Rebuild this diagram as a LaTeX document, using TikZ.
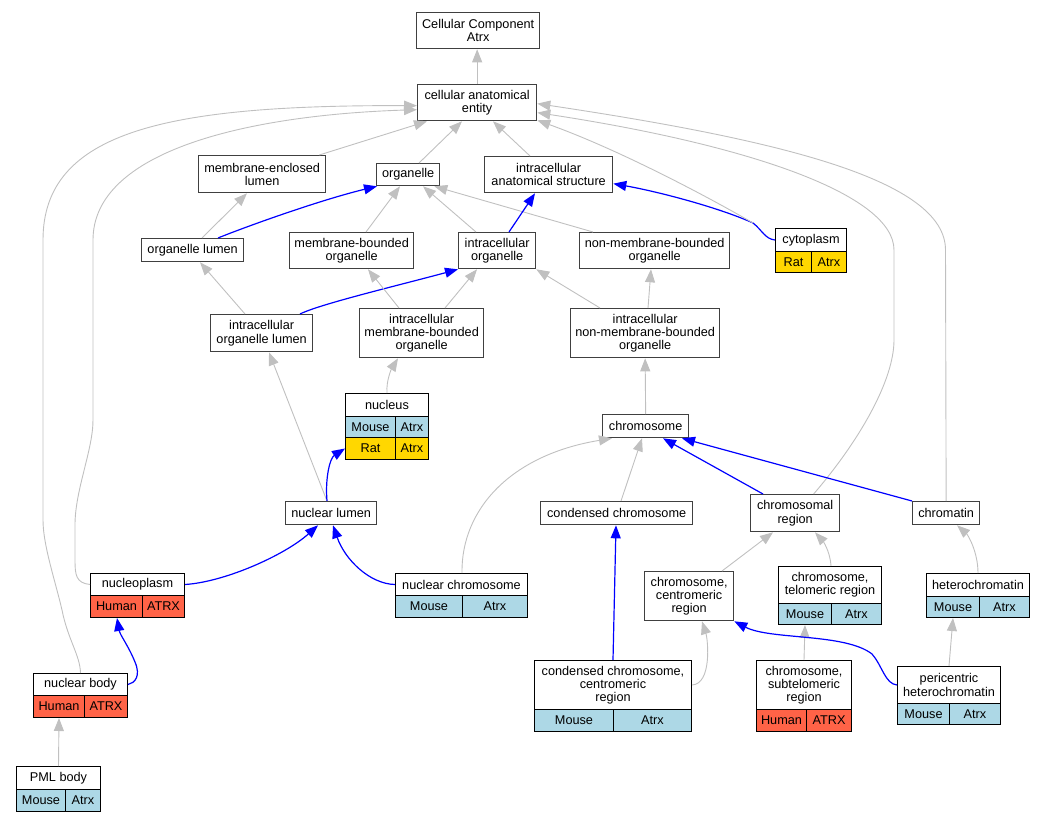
\documentclass[tikz,border=0pt]{standalone}
\usepackage{fontspec}
\setmainfont{Liberation Sans}
\usetikzlibrary{arrows.meta}
\definecolor{lblue}{HTML}{ADD8E6}
\definecolor{lgold}{HTML}{FFD700}
\definecolor{ltomato}{HTML}{FF6347}
\definecolor{egray}{HTML}{C0C0C0}
\definecolor{bgray}{HTML}{404040}
\definecolor{eblue}{HTML}{0000FF}
\newcommand\fs{\fontsize{12.7}{13.2}\selectfont}
\newcommand\bx[7][]{\node[nbox,#1,anchor=north west,minimum width={(#5-#3)*1pt},minimum height={(#6-#4)*1pt}] (#2) at (#3,#4) {#7};}
\begin{document}
\begin{tikzpicture}[x=1pt,y=-1pt,
 nbox/.style={draw=bgray,line width=1.3pt,fill=white,inner sep=0pt,align=center,font=\fs},
 tbox/.style={draw=black,line width=1pt},
 gedge/.style={draw=egray,line width=0.9pt,-{Triangle[length=13pt,width=10pt]}},
 bedge/.style={draw=eblue,line width=1.2pt,-{Triangle[length=13pt,width=10pt]}},
 mouse/.style={tbox,fill=lblue}, rat/.style={tbox,fill=lgold}, human/.style={tbox,fill=ltomato}]
\useasboundingbox (0,0) rectangle (1044,821);
% nodes
\bx{cc}{416}{12}{539}{48}{Cellular Component\\Atrx}
\bx{cae}{417}{84}{536}{120}{cellular anatomical\\entity}
\bx{mel}{198}{155}{325}{192}{membrane-enclosed\\lumen}
\bx{org}{376}{163}{439}{185}{organelle}
\bx{ias}{484}{156}{612}{192}{intracellular\\anatomical structure}
\bx{ol}{141}{238}{243}{261}{organelle lumen}
\bx{mbo}{289}{232}{413}{268}{membrane-bounded\\organelle}
\bx{io}{458}{232}{535}{268}{intracellular\\organelle}
\bx{nmbo}{579}{232}{729}{268}{non-membrane-bounded\\organelle}
\bx[tbox]{cyto}{775}{228}{846}{251}{cytoplasm}
\bx[rat]{cyto-l}{775}{251}{811}{272}{Rat}
\bx[rat]{cyto-r}{811}{251}{846}{272}{Atrx}
\bx{iol}{210}{314}{312}{351}{intracellular\\organelle lumen}
\bx{imbo}{359}{308}{483}{357}{intracellular\\membrane-bounded\\organelle}
\bx{inmbo}{570}{308}{719}{357}{intracellular\\non-membrane-bounded\\organelle}
\bx[tbox]{nuc}{345}{393}{428}{416}{nucleus}
\bx[mouse]{nuc-ml}{345}{416}{395}{437}{Mouse}
\bx[mouse]{nuc-mr}{395}{416}{428}{437}{Atrx}
\bx[rat]{nuc-rl}{345}{437}{395}{459}{Rat}
\bx[rat]{nuc-rr}{395}{437}{428}{459}{Atrx}
\bx{chr}{602}{414}{688}{437}{chromosome}
\bx{nl}{285}{501}{376}{524}{nuclear lumen}
\bx{cch}{540}{501}{692}{524}{condensed chromosome}
\bx{chreg}{750}{494}{839}{531}{chromosomal\\region}
\bx{chrt}{912}{501}{979}{524}{chromatin}
\bx[tbox]{npl}{90}{573}{184}{595}{nucleoplasm}
\bx[human]{npl-l}{90}{595}{142}{617}{Human}
\bx[human]{npl-r}{142}{595}{184}{617}{ATRX}
\bx[tbox]{nch}{395}{573}{527}{595}{nuclear chromosome}
\bx[mouse]{nch-l}{395}{595}{462}{617}{Mouse}
\bx[mouse]{nch-r}{462}{595}{527}{617}{Atrx}
\bx{ccr}{644}{571}{733}{620}{chromosome,\\centromeric\\region}
\bx[tbox]{ctr}{778}{566}{881}{603}{chromosome,\\telomeric region}
\bx[mouse]{ctr-l}{778}{603}{831}{624}{Mouse}
\bx[mouse]{ctr-r}{831}{603}{881}{624}{Atrx}
\bx[tbox]{het}{926}{573}{1029}{596}{heterochromatin}
\bx[mouse]{het-l}{926}{596}{979}{617}{Mouse}
\bx[mouse]{het-r}{979}{596}{1029}{617}{Atrx}
\bx[tbox]{nb}{33}{673}{127}{695}{nuclear body}
\bx[human]{nb-l}{33}{695}{84}{717}{Human}
\bx[human]{nb-r}{84}{695}{127}{717}{ATRX}
\bx[tbox]{cccr}{534}{660}{691}{709}{condensed chromosome,\\centromeric\\region}
\bx[mouse]{cccr-l}{534}{709}{613}{731}{Mouse}
\bx[mouse]{cccr-r}{613}{709}{691}{731}{Atrx}
\bx[tbox]{cstr}{756}{660}{851}{709}{chromosome,\\subtelomeric\\region}
\bx[human]{cstr-l}{756}{709}{806}{731}{Human}
\bx[human]{cstr-r}{806}{709}{851}{731}{ATRX}
\bx[tbox]{pch}{897}{666}{1000}{703}{pericentric\\heterochromatin}
\bx[mouse]{pch-l}{897}{703}{949}{724}{Mouse}
\bx[mouse]{pch-r}{949}{703}{1000}{724}{Atrx}
\bx[tbox]{pml}{16}{766}{100}{789}{PML body}
\bx[mouse]{pml-l}{16}{789}{65}{811}{Mouse}
\bx[mouse]{pml-r}{65}{789}{100}{811}{Atrx}
% edges
\draw[gedge] (cae.north) -- (cae.north |- cc.south);
\draw[gedge] ([xshift=-7pt]mel.north east) -- ([xshift=10pt]cae.south west);
\draw[gedge] ([xshift=43pt]org.north west) -- ([xshift=45pt]cae.south west);
\draw[gedge] ([xshift=46pt]ias.north west) -- ([xshift=76pt]cae.south west);
\draw[gedge] ([xshift=61pt]ol.north west) -- ([xshift=49pt]mel.south west);
\draw[bedge] ([xshift=77pt]ol.north west) .. controls (245,227) and (320,200) .. ([xshift=1pt]org.south west);
\draw[gedge] ([xshift=77pt]mbo.north west) -- ([xshift=24pt]org.south west);
\draw[gedge] ([xshift=18pt]io.north west) -- ([xshift=47pt]org.south west);
\draw[gedge] ([xshift=14pt]nmbo.north west) -- ([xshift=-6pt]org.south east);
\draw[bedge] ([xshift=51pt]io.north west) -- ([xshift=51pt]ias.south west);
\draw[bedge] (cyto.west) .. controls (765,239) and (762,230) .. (753,223) .. controls (720,208) and (660,192) .. ([yshift=-9pt]ias.east);
\draw[gedge] ([xshift=-22pt,yshift=5pt]cyto.north west) .. controls (710,198) and (620,150) .. ([yshift=1pt]cae.south east);
\draw[gedge] ([xshift=18.5pt]chreg.north) .. controls (860,440) and (894,380) .. (894,340) -- (894,250) .. controls (894,195) and (750,145) .. ([yshift=-10pt]cae.east);
\draw[gedge] (chrt.north) -- (945.5,250) .. controls (945.5,180) and (780,140) .. ([yshift=-1pt]cae.east);
\draw[gedge] ([xshift=35pt]iol.north west) -- ([xshift=59pt]ol.south west);
\draw[bedge] ([xshift=90pt]iol.north west) .. controls (320,304) and (400,285) .. (io.south west);
\draw[gedge] ([xshift=40pt]imbo.north west) -- ([xshift=79pt]mbo.south west);
\draw[gedge] ([xshift=86pt]imbo.north west) -- ([xshift=19pt]io.south west);
\draw[gedge] ([xshift=30pt]inmbo.north west) -- (io.south east);
\draw[gedge] ([xshift=78pt]inmbo.north west) -- ([xshift=72pt]nmbo.south west);
\draw[gedge] ([xshift=42pt]nuc.north west) .. controls (386,380) and (392,368) .. ([xshift=39pt]imbo.south west);
\draw[gedge] ([xshift=42pt]nl.north west) -- ([xshift=59pt]iol.south west);
\draw[bedge] ([xshift=42pt]nl.north west) .. controls (325,478) and (330,458) .. (nuc-rl.west);
\draw[bedge] (npl.east) .. controls (225,582) and (285,555) .. ([xshift=33pt]nl.south west);
\draw[bedge] (nch.west) .. controls (370,584) and (345,560) .. ([xshift=48pt]nl.south west);
\draw[gedge] ([xshift=67pt]nch.north west) .. controls (461,510) and (510,455) .. ([xshift=10pt]chr.south west);
\draw[gedge] ([xshift=81pt]cch.north west) -- ([xshift=40pt]chr.south west);
\draw[bedge] ([xshift=13pt]chreg.north west) -- ([xshift=61pt]chr.south west);
\draw[bedge] (chrt.north west) -- ([xshift=80pt]chr.south west);
\draw[bedge] ([xshift=79pt]cccr.north west) -- ([xshift=76pt]cch.south west);
\draw[gedge] (cccr.east) .. controls (712,684) and (708,640) .. ([xshift=58pt]ccr.south west);
\draw[gedge] ([xshift=78pt]ccr.north west) -- ([xshift=23pt]chreg.south west);
\draw[gedge] ([xshift=53pt]ctr.north west) .. controls (830,550) and (822,540) .. ([xshift=65pt]chreg.south west);
\draw[gedge] ([xshift=48pt]cstr.north west) -- (ctr-l.south);
\draw[bedge] (pch.west) .. controls (885,684) and (882,665) .. (872,654) .. controls (845,633) and (770,640) .. (ccr.south east);
\draw[gedge] ([xshift=52pt]pch.north west) -- (het-l.south);
\draw[gedge] ([xshift=52pt]het.north west) .. controls (978,552) and (968,535) .. ([xshift=45pt]chrt.south west);
\draw[gedge] (chr.north) -- (inmbo.south);
\draw[gedge] (npl.west) .. controls (76,583) and (75,575) .. (75,560) -- (75,525) .. controls (75,490) and (93,450) .. (93,420) -- (93,240) .. controls (93,150) and (250,115) .. ([yshift=-7pt]cae.west);
\draw[gedge] (nb.north) .. controls (80,655) and (68,640) .. (62,610) .. controls (55,580) and (43,545) .. (43,520) -- (43,240) .. controls (43,130) and (170,105) .. ([yshift=-3pt]cae.west);
\draw[bedge] (nb.east) .. controls (135,683) and (141,676) .. (135,662) .. controls (128,645) and (120,635) .. ([xshift=27pt]npl-l.south west);
\draw[gedge] (pml.north) -- (nb-l.south);
\end{tikzpicture}
\end{document}
